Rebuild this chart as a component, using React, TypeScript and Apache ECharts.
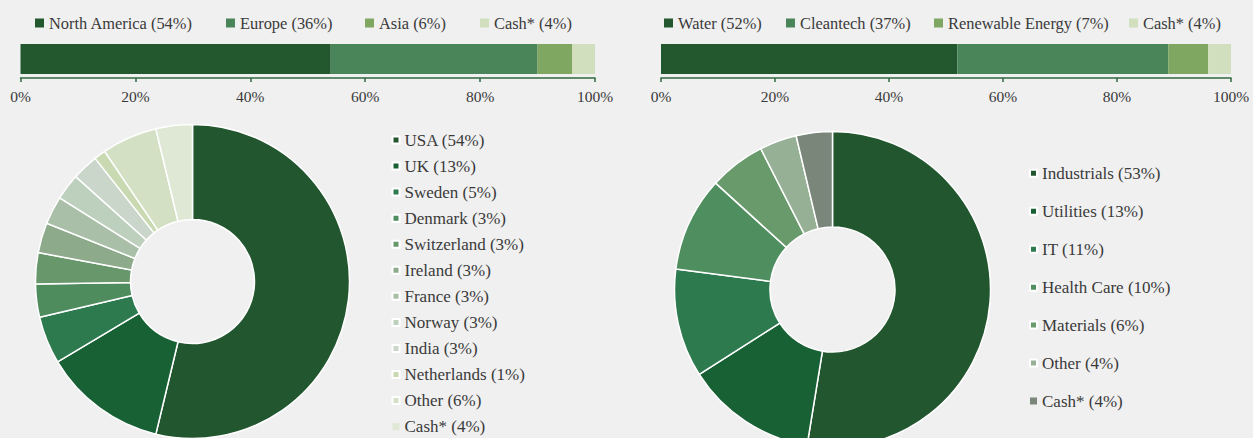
import React, { useEffect, useRef } from "react";
import * as echarts from "echarts";

// ---- Data ----
const regionNames = ["North America", "Europe", "Asia", "Cash*"];
const regionValues = [54, 36, 6, 4];
const themeNames = ["Water", "Cleantech", "Renewable Energy", "Cash*"];
const themeValues = [52, 37, 7, 4];
const axisTicks = [0, 20, 40, 60, 80, 100];

const countries = ["USA", "UK", "Sweden", "Denmark", "Switzerland", "Ireland", "France", "Norway", "India", "Netherlands", "Other", "Cash*"];
const countryPct = [54, 13, 5, 3, 3, 3, 3, 3, 3, 1, 6, 4];
const countryShare = [53.75, 12.7, 4.9, 3.4, 3.2, 3.1, 2.9, 2.7, 2.7, 1.2, 5.7, 3.75];

const sectors = ["Industrials", "Utilities", "IT", "Health Care", "Materials", "Other", "Cash*"];
const sectorPct = [53, 13, 11, 10, 6, 4, 4];
const sectorShare = [52.6, 13.4, 11.1, 9.7, 5.75, 3.8, 3.7];

// ---- Styles ----
const FONT = "'Liberation Serif', serif";
const BG = "#f0f0f0";
const TEXT = "#3a3a3a";
const AXIS = "#2f6a3f";
const barColors = ["#23582f", "#4a8559", "#80a762", "#d1dfbe"];
const countryColors = ["#22562f", "#186135", "#2d7a4f", "#4e8c5e", "#67976a", "#8daa8b", "#a9bfa8", "#bdd0bd", "#cbd6cb", "#c9dab3", "#d4e0c4", "#dfe8d5"];
const sectorColors = ["#22562f", "#186135", "#2d7a4f", "#4f8e5f", "#699a6b", "#95b095", "#7a867a"];

const regionLegendLeft = [35, 226, 365, 480];
const themeLegendLeft = [664, 786, 934, 1129];

export default function App() {
  const ref = useRef<HTMLDivElement>(null);
  useEffect(() => {
    document.body.style.margin = "0";
    const chart = echarts.init(ref.current!, null, { renderer: "svg" });

    const label = (n: string, p: number) => `${n} (${p}%)`;
    const regionLabels = regionNames.map((n, i) => label(n, regionValues[i]));
    const themeLabels = themeNames.map((n, i) => label(n, themeValues[i]));
    const countryLabels = countries.map((n, i) => label(n, countryPct[i]));
    const sectorLabels = sectors.map((n, i) => label(n, sectorPct[i]));

    const topText = { fontFamily: FONT, fontSize: 16.4, color: TEXT, lineHeight: 16 };
    const pieText = { fontFamily: FONT, fontSize: 17, color: TEXT, lineHeight: 17 };

    const makeXAxis = (gridIndex: number) => ({
      type: "value",
      gridIndex,
      min: axisTicks[0],
      max: axisTicks[axisTicks.length - 1],
      interval: axisTicks[1] - axisTicks[0],
      axisLine: { show: true, lineStyle: { color: AXIS, width: 1.5 } },
      axisTick: { show: true, length: 4, lineStyle: { color: AXIS, width: 1.5 } },
      splitLine: { show: false },
      axisLabel: { formatter: "{value}%", fontFamily: FONT, fontSize: 15.5, color: TEXT, margin: 10 },
    });
    const makeYAxis = (gridIndex: number) => ({
      type: "category",
      gridIndex,
      data: ["a"],
      show: false,
    });

    const topLegends: any[] = [];
    regionLabels.forEach((n, i) =>
      topLegends.push({
        data: [{ name: n, itemStyle: { color: barColors[i] } }], left: regionLegendLeft[i], top: 15, padding: 0,
        itemWidth: 9, itemHeight: 9, itemGap: 0, icon: "rect", textStyle: topText,
        selectedMode: false,
      })
    );
    themeLabels.forEach((n, i) =>
      topLegends.push({
        data: [{ name: n, itemStyle: { color: barColors[i] } }], left: themeLegendLeft[i], top: 15, padding: 0,
        itemWidth: 9, itemHeight: 9, itemGap: 0, icon: "rect", textStyle: topText,
        selectedMode: false,
      })
    );

    const barSeries = (labels: string[], values: number[], idx: number) =>
      labels.map((n, i) => ({
        type: "bar",
        name: n,
        stack: "s" + idx,
        xAxisIndex: idx,
        yAxisIndex: idx,
        barWidth: 30,
        data: [values[i]],
        itemStyle: { color: barColors[i] },
        emphasis: { disabled: true },
      }));

    chart.setOption({
      animation: false,
      backgroundColor: BG,
      textStyle: { fontFamily: FONT },
      grid: [
        { left: 20.5, width: 574.5, top: 40, height: 38 },
        { left: 661, width: 570, top: 40, height: 38 },
      ],
      xAxis: [makeXAxis(0), makeXAxis(1)],
      yAxis: [makeYAxis(0), makeYAxis(1)],
      legend: [
        ...topLegends,
        {
          data: countryLabels.map((n, i) => ({ name: n, itemStyle: { color: countryColors[i] } })),
          orient: "vertical", left: 391.5, top: 131.5, padding: 0,
          itemWidth: 7, itemHeight: 7, itemGap: 9.06, icon: "rect", textStyle: pieText,
          selectedMode: false,
        },
        {
          data: sectorLabels.map((n, i) => ({ name: n, itemStyle: { color: sectorColors[i] } })),
          orient: "vertical", left: 1029, top: 164.8, padding: 0,
          itemWidth: 7, itemHeight: 7, itemGap: 20.95, icon: "rect", textStyle: pieText,
          selectedMode: false,
        },
      ],
      series: [
        ...barSeries(regionLabels, regionValues, 0),
        ...barSeries(themeLabels, themeValues, 1),
        {
          type: "pie",
          center: [192.5, 281.5],
          radius: [62, 157],
          startAngle: 90,
          clockwise: true,
          label: { show: false },
          labelLine: { show: false },
          emphasis: { disabled: true },
          itemStyle: { borderColor: "#ffffff", borderWidth: 1.5 },
          data: countryLabels.map((n, i) => ({ name: n, value: countryShare[i], itemStyle: { color: countryColors[i] } })),
        },
        {
          type: "pie",
          center: [832.5, 289.5],
          radius: [62.5, 158],
          startAngle: 90,
          clockwise: true,
          label: { show: false },
          labelLine: { show: false },
          emphasis: { disabled: true },
          itemStyle: { borderColor: "#ffffff", borderWidth: 1.5 },
          data: sectorLabels.map((n, i) => ({ name: n, value: sectorShare[i], itemStyle: { color: sectorColors[i] } })),
        },
      ],
    });
    return () => chart.dispose();
  }, []);
  return <div ref={ref} style={{ width: 1253, height: 438, background: BG }} />;
}
